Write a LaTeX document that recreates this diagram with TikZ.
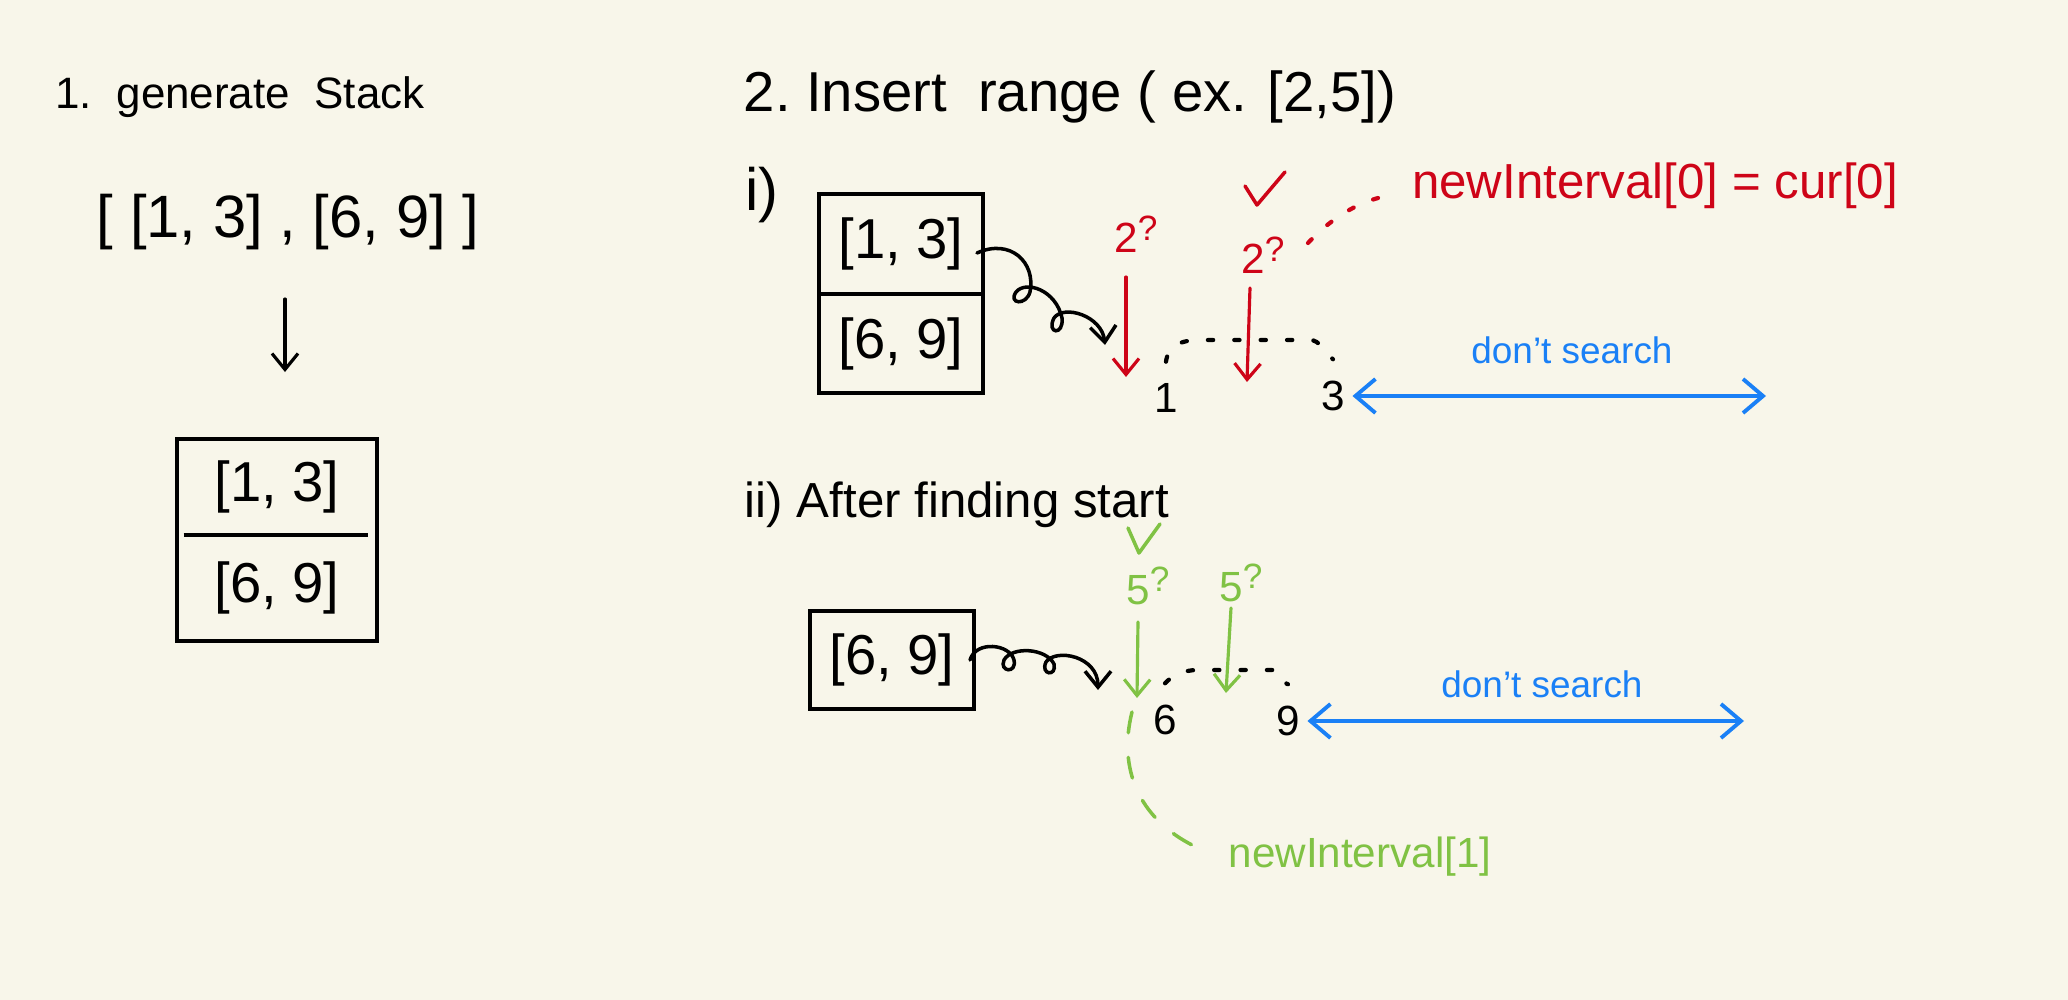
\documentclass[tikz,border=0pt]{standalone}
\usepackage{fontspec}
\setmainfont{Liberation Sans}
\usepackage{xcolor}
\usetikzlibrary{positioning,arrows.meta}

\definecolor{paper}{RGB}{248,246,234}
\definecolor{inkred}{RGB}{206,4,24}
\definecolor{inkgreen}{RGB}{128,194,68}
\definecolor{inkblue}{RGB}{26,128,246}

\newcommand{\fs}[1]{\fontsize{#1}{#1}\selectfont}
\newcommand{\qm}{\raisebox{0.55ex}{\fs{10}?}}

\begin{document}
\begin{tikzpicture}[x=0.01cm, y=-0.01cm,
  txt/.style={inner sep=1pt},
  cell/.style={minimum width=1.62cm, minimum height=0.98cm, inner sep=0pt, font=\fs{16}},
  boxline/.style={line width=1.2pt, black},
  arr/.style={line width=0.9pt, line cap=round, -{Straight Barb[length=1.6mm,width=2.6mm]}},
  redarr/.style={arr, inkred},
  grnarr/.style={arr, inkgreen},
  bluearr/.style={line width=1.1pt, inkblue, {Straight Barb[length=2mm,width=3.4mm]}-{Straight Barb[length=2mm,width=3.4mm]}},
  dotline/.style={line width=1.2pt, line cap=round, dash pattern=on 1.5pt off 6pt},
  curl/.style={arr, black, line width=1pt}]
  \useasboundingbox[fill=paper] (0,0) rectangle (2068,1000);

  % 1. generate stack
  \node[txt, font=\fs{12.5}] (t1) at (240,97) {1.~~generate~~Stack};
  \node[txt, font=\fs{17}] (list) at (288,222) {[ [1, 3] , [6, 9] ]};
  \coordinate (dtop) at (285,299); \coordinate (dbot) at (285,372);
  \draw[arr, black] (dtop) -- (dbot);
  \node[cell, minimum width=1.99cm, minimum height=0.94cm] (sa) at (277,487) {[1, 3]};
  \node[cell, minimum width=1.99cm, minimum height=1.05cm, below=0pt of sa] (sb) {[6, 9]};
  \draw[boxline] (sa.north west) rectangle (sb.south east);
  \draw[boxline] ([xshift=0.07cm]sa.south west) -- ([xshift=-0.09cm]sa.south east);

  % 2. insert range
  \node[txt, font=\fs{16}] (t2) at (1070,97) {2.~Insert~~range ( ex. [2,5])};

  % i)
  \node[txt, font=\fs{17}] (ia) at (762,195) {i)};
  \node[cell] (ca) at (901,244) {[1, 3]};
  \node[cell, below=0pt of ca] (cb) {[6, 9]};
  \draw[boxline] (ca.north west) rectangle (cb.south east);
  \draw[boxline] (ca.south west) -- (ca.south east);
  \coordinate (ca0) at (977,253); \coordinate (ca1) at (1105,345);
  \draw[curl] (ca0) .. controls (1010,238) and (1036,262) .. (1030,292)
    .. controls (1026,306) and (1008,304) .. (1016,292)
    .. controls (1026,280) and (1056,290) .. (1062,318)
    .. controls (1064,336) and (1046,334) .. (1054,318)
    .. controls (1064,304) and (1102,316) .. (ca1);

  \node[txt, font=\fs{12}, inkred] (qa) at (1136,234) {2\qm};
  \node[txt, font=\fs{12}, inkred] (qb) at (1263,255) {2\qm};
  \coordinate (ra0) at (1126,277); \coordinate (ra1) at (1126,377);
  \coordinate (rb0) at (1250,288); \coordinate (rb1) at (1247,382);
  \draw[redarr] (ra0) -- (ra1);
  \draw[redarr] (rb0) -- (rb1);
  \draw[inkred, line width=1pt, line cap=round, line join=round]
    (1245,186) -- (1257,205) -- (1285,172);
  \node[txt, font=\fs{14}, inkred] (n0) at (1655,186) {newInterval[0] = cur[0]};
  \coordinate (rd0) at (1308,243); \coordinate (rd1) at (1378,198);
  \draw[dotline, inkred] (rd0) .. controls (1328,222) and (1350,206) .. (rd1);

  \node[txt, font=\fs{12}] (one) at (1166,398) {1};
  \node[txt, font=\fs{12}] (three) at (1333,396) {3};
  \draw[dotline] ([yshift=5pt]one.north) .. controls (1168,346) and (1180,340) .. (1200,340)
    -- (1310,340) .. controls (1320,340) and (1324,352) .. ([yshift=5pt]three.north);
  \node[txt, font=\fs{10.5}, inkblue] (dsa) at (1572,350) {don't search};
  \coordinate (ba1) at (1766,394);
  \draw[bluearr, shorten <=1pt] (three.east) -- (three.east -| ba1);

  % ii)
  \node[txt, font=\fs{14}] (t3) at (957,505) {ii)~After~finding~start};
  \draw[inkgreen, line width=1pt, line cap=round, line join=round]
    (1128,528) -- (1139,553) -- (1160,524);
  \node[txt, font=\fs{12}, inkgreen] (qc) at (1148,586) {5\qm};
  \node[txt, font=\fs{12}, inkgreen] (qd) at (1241,583) {5\qm};
  \coordinate (ga0) at (1138,622); \coordinate (ga1) at (1137,698);
  \coordinate (gb0) at (1231,608); \coordinate (gb1) at (1226,693);
  \draw[grnarr] (ga0) -- (ga1);
  \draw[grnarr] (gb0) -- (gb1);

  \node[cell, minimum height=0.97cm] (cc) at (892,660) {[6, 9]};
  \draw[boxline] (cc.north west) rectangle (cc.south east);
  \coordinate (cc0) at (970,660); \coordinate (cc1) at (1098,690);
  \draw[curl] (cc0) .. controls (976,640) and (1010,644) .. (1014,660)
    .. controls (1017,674) and (999,672) .. (1004,660)
    .. controls (1012,646) and (1046,648) .. (1054,664)
    .. controls (1057,677) and (1040,675) .. (1046,662)
    .. controls (1056,648) and (1098,656) .. (cc1);

  \node[txt, font=\fs{12}] (six) at (1165,720) {6};
  \node[txt, font=\fs{12}] (nine) at (1288,721) {9};
  \draw[dotline] ([yshift=5pt]six.north) .. controls (1172,676) and (1182,670) .. (1198,670)
    -- (1276,670) .. controls (1282,672) and (1284,684) .. ([yshift=5pt]nine.north);
  \node[txt, font=\fs{10.5}, inkblue] (dsb) at (1542,684) {don't search};
  \coordinate (bb1) at (1744,719);
  \draw[bluearr, shorten <=1pt] (nine.east) -- (nine.east -| bb1);

  \node[txt, font=\fs{12}, inkgreen] (n1) at (1360,857) {newInterval[1]};
  \coordinate (gd0) at (1132,712); \coordinate (gd1) at (1194,846);
  \draw[inkgreen, line width=1pt, line cap=round, dash pattern=on 6pt off 7pt]
    (gd0) .. controls (1118,768) and (1138,818) .. (gd1);
\end{tikzpicture}
\end{document}
